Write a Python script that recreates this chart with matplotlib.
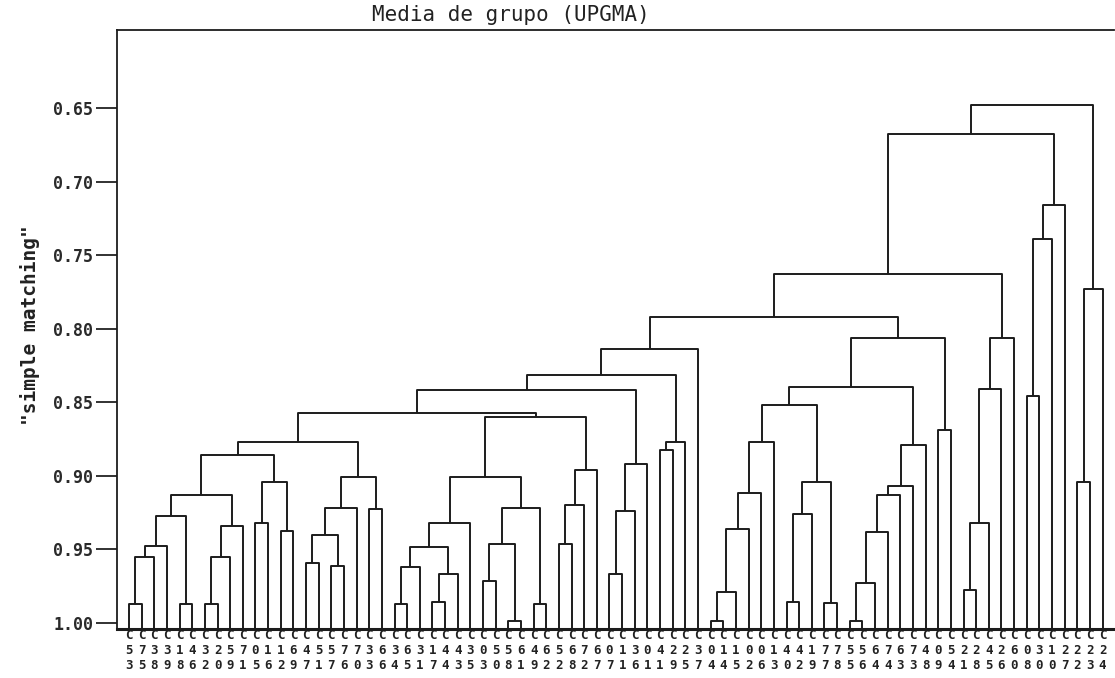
import matplotlib.pyplot as plt

# leaves in the order they appear along the x axis
labels = ['C53', 'C75', 'C38', 'C39', 'C18', 'C46', 'C32', 'C20', 'C59', 'C71',
          'C05', 'C16', 'C12', 'C69', 'C47', 'C51', 'C57', 'C76', 'C70', 'C33',
          'C66', 'C34', 'C65', 'C31', 'C17', 'C44', 'C43', 'C35', 'C03', 'C50',
          'C58', 'C61', 'C49', 'C62', 'C52', 'C68', 'C72', 'C67', 'C07', 'C11',
          'C36', 'C01', 'C41', 'C29', 'C25', 'C37', 'C04', 'C14', 'C15', 'C02',
          'C06', 'C13', 'C40', 'C42', 'C19', 'C77', 'C78', 'C55', 'C56', 'C64',
          'C74', 'C63', 'C73', 'C48', 'C09', 'C54', 'C21', 'C28', 'C45', 'C26',
          'C60', 'C08', 'C30', 'C10', 'C27', 'C22', 'C23', 'C24']

# merge i creates node 'n<i>' from left[i] and right[i] at similarity sim[i]
left = ['C53', 'n0', 'n1', 'C18', 'n2', 'C32', 'n5', 'n6', 'n4', 'C05',
        'C12', 'n9', 'n8', 'C47', 'C57', 'n13', 'n15', 'C33', 'n16', 'n12',
        'C34', 'n20', 'C17', 'n22', 'n21', 'n24', 'C03', 'C58', 'n26', 'C49',
        'n28', 'n25', 'C52', 'n32', 'n33', 'n31', 'n19', 'C07', 'n37', 'n38',
        'n36', 'C41', 'n41', 'n40', 'n43',
        'C04', 'n45', 'n46', 'n47', 'n48', 'C40', 'n50', 'C77', 'n51', 'n49',
        'C55', 'n55', 'n56', 'n57', 'n58', 'n59', 'n54', 'C09', 'n61', 'n44',
        'C21', 'n65', 'n66', 'n67', 'n64', 'C08', 'n70', 'n71', 'n69', 'C22',
        'n74', 'n73']
right = ['C75', 'C38', 'C39', 'C46', 'n3', 'C20', 'C59', 'C71', 'n7', 'C16',
         'C69', 'n10', 'n11', 'C51', 'C76', 'n14', 'C70', 'C66', 'n17', 'n18',
         'C65', 'C31', 'C44', 'C43', 'n23', 'C35', 'C50', 'C61', 'n27', 'C62',
         'n29', 'n30', 'C68', 'C72', 'C67', 'n34', 'n35', 'C11', 'C36', 'C01',
         'n39', 'C29', 'C25', 'n42', 'C37',
         'C14', 'C15', 'C02', 'C06', 'C13', 'C42', 'C19', 'C78', 'n52', 'n53',
         'C56', 'C64', 'C74', 'C63', 'C73', 'C48', 'n60', 'C54', 'n62', 'n63',
         'C28', 'C45', 'C26', 'C60', 'n68', 'C30', 'C10', 'C27', 'n72', 'C23',
         'C24', 'n75']
sim = [0.987, 0.955, 0.948, 0.987, 0.927, 0.987, 0.955, 0.934, 0.913, 0.932,
       0.9375, 0.904, 0.886, 0.9595, 0.961, 0.940, 0.9217, 0.9226, 0.901, 0.877,
       0.987, 0.962, 0.986, 0.967, 0.9486, 0.932, 0.9715, 0.999, 0.946, 0.987,
       0.922, 0.9006, 0.946, 0.9198, 0.896, 0.860, 0.857, 0.967, 0.924, 0.892,
       0.8417, 0.8825, 0.8768, 0.8315, 0.8141,
       0.999, 0.9787, 0.936, 0.9115, 0.8768, 0.9855, 0.926, 0.9866, 0.9044, 0.852,
       0.999, 0.973, 0.9384, 0.913, 0.907, 0.879, 0.8395, 0.869, 0.8066, 0.792,
       0.9776, 0.932, 0.841, 0.8066, 0.763, 0.846, 0.739, 0.7156, 0.668, 0.904,
       0.7733, 0.648]

yticks = [0.65, 0.70, 0.75, 0.80, 0.85, 0.90, 0.95, 1.00]

ybottom = 1.0041
ytop = 0.597

fig = plt.figure(figsize=(11.15, 6.78), dpi=100)
ax = fig.add_axes([117 / 1115, 1 - 629 / 678, 997 / 1115, 599 / 678])

# x position and height of every node, leaves first
xpos = {name: i for i, name in enumerate(labels)}
level = {name: ybottom for name in labels}

for i in range(len(sim)):
    a, b, h = left[i], right[i], sim[i]
    ax.plot([xpos[a], xpos[a], xpos[b], xpos[b]], [level[a], h, h, level[b]],
            color='#1c1c1c', lw=1.4, solid_capstyle='butt')
    xpos['n%d' % i] = (xpos[a] + xpos[b]) / 2
    level['n%d' % i] = h

ax.set_xlim(-0.95, 77.9)
ax.set_ylim(ybottom, ytop)

ax.set_yticks(yticks)
ax.set_yticklabels(['%.2f' % v for v in yticks], family='DejaVu Sans Mono',
                   fontsize=12, fontweight='bold', color='#2a2a2a')
ax.tick_params(axis='y', length=15, width=1.3, pad=2, color='#222222')

ax.set_xticks(range(len(labels)))
ax.set_xticklabels(['C\n%s\n%s' % (lab[1], lab[2]) for lab in labels],
                   family='DejaVu Sans Mono', fontsize=9, fontweight='bold',
                   color='#222222')
for t in ax.get_xticklabels():
    t.set_linespacing(1.2)
ax.tick_params(axis='x', length=0, pad=0)

ax.spines['right'].set_visible(False)
ax.spines['left'].set_linewidth(1.3)
ax.spines['top'].set_linewidth(1.3)
ax.spines['bottom'].set_linewidth(2.2)
for s in ['left', 'top', 'bottom']:
    ax.spines[s].set_color('#1c1c1c')

fig.text(0.458, 0.978, 'Media de grupo (UPGMA)', family='DejaVu Sans Mono',
         fontsize=15, ha='center', va='center', color='#222222')
fig.text(0.027, 0.52, '"simple matching"', family='DejaVu Sans Mono',
         fontsize=14, fontweight='bold', rotation=90, ha='center', va='center',
         color='#222222')

fig.savefig('out.png', dpi=100)
